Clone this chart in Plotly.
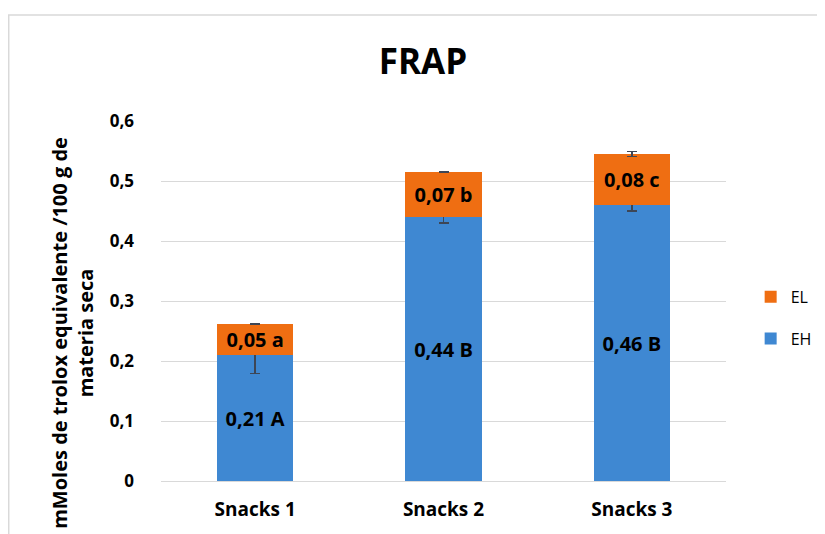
"""FRAP stacked bars: EH + EL per snack, with letters from the mean comparison."""
import plotly.graph_objects as go

categories = ["Snacks 1", "Snacks 2", "Snacks 3"]
eh_values = [0.21, 0.44, 0.46]
el_values = [0.052, 0.075, 0.085]
eh_err = [0.031, 0.01, 0.01]
el_err = [0.0008, 0.0008, 0.004]
eh_labels = ["0,21 A", "0,44 B", "0,46 B"]
el_labels = ["0,05 a", "0,07 b", "0,08 c"]
y_ticks = [0, 0.1, 0.2, 0.3, 0.4, 0.5, 0.6]
y_ticktext = ["0", "0,1", "0,2", "0,3", "0,4", "0,5", "0,6"]

FONT = "Open Sans"
ERR = dict(type="data", symmetric=True, color="#3d4656", thickness=1.5, width=5)
LABEL_FONT = dict(family=FONT, size=20, color="black", weight="bold")

fig = go.Figure()
fig.add_trace(go.Bar(
    x=categories, y=eh_values, name="EH", legendgroup="eh", legendrank=2,
    marker=dict(color="#3f88d2", line=dict(width=0)),
    error_y=dict(array=eh_err, **ERR),
    text=eh_labels, textposition="inside", insidetextanchor="middle",
    textangle=0, constraintext="none", textfont=LABEL_FONT,
))
fig.add_trace(go.Bar(
    x=categories, y=el_values, name="EL", legendgroup="el", legendrank=1,
    marker=dict(color="#ef6e12", line=dict(width=0)),
    error_y=dict(array=el_err, **ERR),
    text=el_labels, textposition="inside", insidetextanchor="middle",
    textangle=0, constraintext="none", textfont=LABEL_FONT,
))

# light frame of the chart area, as in the original spreadsheet export
fig.add_shape(type="rect", xref="paper", yref="paper",
              x0=-0.2695, x1=2, y0=-2, y1=1.2944,
              line=dict(color="#d9d9d9", width=1.5), layer="below")

fig.add_annotation(
    text="mMoles de trolox equivalente /100 g de<br>materia seca",
    xref="paper", yref="paper", x=-0.158, y=0.411, textangle=-90,
    showarrow=False, xanchor="center", yanchor="middle",
    font=dict(family=FONT, size=20, color="black", weight="bold"),
)

# page body has an 8px margin, so the figure is 8px smaller each way
fig.update_layout(
    barmode="stack", bargap=0.595,
    width=817, height=526,
    paper_bgcolor="white", plot_bgcolor="white",
    font=dict(family=FONT, color="black"),
    title=dict(text="FRAP", x=0.508, xref="container", y=0.897, yref="container",
               xanchor="center", yanchor="middle", automargin=False,
               font=dict(family=FONT, size=35, color="black", weight="bold")),
    margin=dict(l=153, r=99, t=113, b=53, autoexpand=False),
    legend=dict(x=0.909, y=0.411, xref="container", yref="container",
                xanchor="left", yanchor="middle",
                traceorder="grouped", tracegroupgap=18,
                font=dict(family=FONT, size=16, color="black")),
    xaxis=dict(showgrid=False, showline=False, ticks="", automargin=False,
               tickfont=dict(family=FONT, size=19, color="black", weight="bold"),
               ticklabelstandoff=15),
    yaxis=dict(range=[0, 0.6], tickvals=y_ticks, ticktext=y_ticktext,
               showgrid=True, gridcolor="#d9d9d9", gridwidth=1,
               zeroline=True, zerolinecolor="#d9d9d9", zerolinewidth=1,
               showline=False, ticks="", ticklabelstandoff=26, automargin=False,
               tickfont=dict(family=FONT, size=17, color="black", weight="bold")),
)

fig.write_html("out.html")
